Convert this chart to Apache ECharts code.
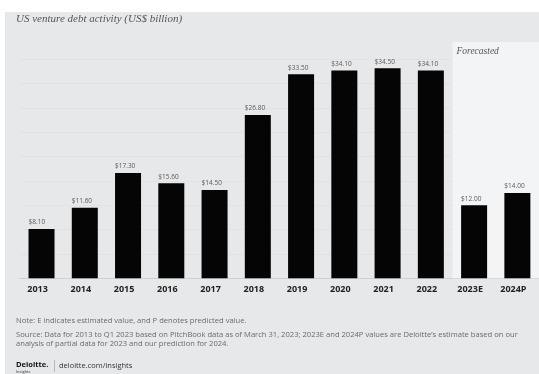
<!DOCTYPE html>
<html>
<head>
<meta charset="utf-8">
<script src="https://cdn.jsdelivr.net/npm/echarts@6/dist/echarts.min.js"></script>
<style>
html,body{margin:0;padding:0;background:#fff;}
#chart{width:539px;height:374px;}
</style>
</head>
<body>
<div id="chart"></div>
<script>
var categories = ['2013','2014','2015','2016','2017','2018','2019','2020','2021','2022','2023E','2024P'];
var values = [8.10, 11.60, 17.30, 15.60, 14.50, 26.80, 33.50, 34.10, 34.50, 34.10, 12.00, 14.00];
var forecastStart = '2023E';
var forecastEnd = '2024P';
var titleText = 'US venture debt activity (US$ billion)';
var noteText = 'Note: E indicates estimated value, and P denotes predicted value.';
var sourceLine1 = 'Source: Data for 2013 to Q1 2023 based on PitchBook data as of March 31, 2023; 2023E and 2024P values are Deloitte\u2019s estimate based on our';
var sourceLine2 = 'analysis of partial data for 2023 and our prediction for 2024.';

var chart = echarts.init(document.getElementById('chart'), null, {renderer: 'canvas'});
var sans = '"Open Sans", "Noto Sans", sans-serif';
var serif = '"Liberation Serif", "DejaVu Serif", serif';

var option = {
  animation: false,
  backgroundColor: '#ffffff',
  grid: {left: 19.9, right: -4.1, top: 42, bottom: 95.7, containLabel: false},
  graphic: [
    {type: 'rect', z: -10, silent: true, shape: {x: 5, y: 12, width: 534, height: 362}, style: {fill: '#e7e8ea'}},
    {type: 'text', left: 16, top: 14, style: {text: titleText, font: 'italic 11px ' + serif, fill: '#555555'}},
    {type: 'text', left: 16, top: 317, style: {text: noteText, font: '7.6px ' + sans, fill: '#6a6a6a'}},
    {type: 'text', left: 16, top: 331, style: {text: sourceLine1, font: '7.6px ' + sans, fill: '#6a6a6a'}},
    {type: 'text', left: 16, top: 340, style: {text: sourceLine2, font: '7.6px ' + sans, fill: '#6a6a6a'}},
    {type: 'text', left: 16, top: 361, style: {text: 'Deloitte.', font: 'bold 7.5px ' + sans, fill: '#111111'}},
    {type: 'text', left: 16, top: 369.5, style: {text: 'Insights', font: '4px ' + sans, fill: '#333333'}},
    {type: 'rect', shape: {x: 54, y: 360, width: 0.6, height: 12}, style: {fill: '#999999'}},
    {type: 'text', left: 59, top: 362, style: {text: 'deloitte.com/insights', font: '7.5px ' + sans, fill: '#333333'}}
  ],
  xAxis: {
    type: 'category',
    data: categories,
    axisLine: {show: true, lineStyle: {color: '#cfd0d2', width: 1}},
    axisTick: {show: false},
    axisLabel: {
      margin: 7,
      padding: [0, 8, 0, 0],
      fontFamily: sans,
      fontWeight: 'bold',
      fontSize: 9,
      color: '#222222'
    },
    splitLine: {show: false}
  },
  yAxis: {
    type: 'value',
    min: 0,
    max: 38.8,
    interval: 4,
    axisLine: {show: false},
    axisTick: {show: false},
    axisLabel: {show: false},
    splitLine: {show: true, showMaxLine: false, showMinLine: false, lineStyle: {color: '#e1e2e4', width: 1}}
  },
  series: [{
    type: 'bar',
    data: values,
    barWidth: 26,
    itemStyle: {color: '#050505'},
    label: {
      show: true,
      position: 'top',
      distance: 3,
      align: 'left',
      offset: [-13, 0],
      fontFamily: sans,
      fontSize: 6.5,
      color: '#5a5a5a',
      formatter: function (p) { return '$' + p.value.toFixed(2); }
    },
    markArea: {
      silent: true,
      itemStyle: {color: '#f3f4f5'},
      label: {
        show: true,
        position: 'insideTopLeft',
        distance: 4,
        fontFamily: serif,
        fontStyle: 'italic',
        fontSize: 9.5,
        color: '#555555',
        formatter: 'Forecasted'
      },
      data: [[{xAxis: forecastStart}, {xAxis: forecastEnd}]]
    }
  }]
};
chart.setOption(option);
</script>
</body>
</html>
